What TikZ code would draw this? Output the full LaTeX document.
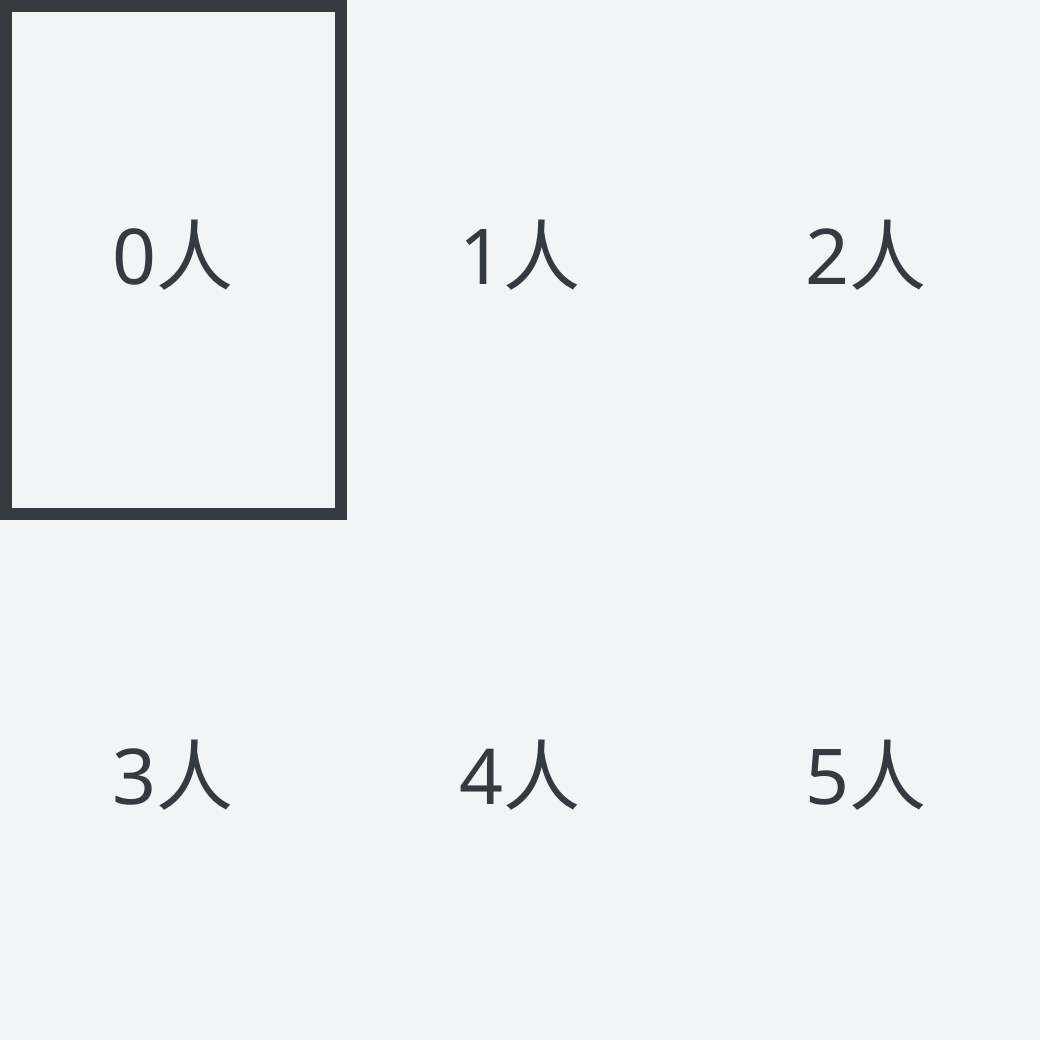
\documentclass[tikz,border=0pt]{standalone}
\usepackage{fontspec}
\setmainfont{Noto Sans}
\newfontfamily\cjk{Noto Sans CJK SC}
\definecolor{bgc}{HTML}{F3F4F6}
\definecolor{ink}{HTML}{353A41}
\begin{document}
\begin{tikzpicture}[x=1pt,y=-1pt,
  lbl/.style={text=ink,font=\fontsize{77}{92}\selectfont,inner sep=0pt,anchor=center},
  sel/.style={draw=ink,line width=12pt}]
\useasboundingbox (0,0) rectangle (1040,1040);
\fill[bgc] (0,0) rectangle (1040,1040);
\draw[sel] (6,6) rectangle (341,514);
\node[lbl] (n0) at (173,255) {0{\cjk 人}};
\node[lbl] (n1) at (520,255) {1{\cjk 人}};
\node[lbl] (n2) at (866,255) {2{\cjk 人}};
\node[lbl] (n3) at (173,775) {3{\cjk 人}};
\node[lbl] (n4) at (520,775) {4{\cjk 人}};
\node[lbl] (n5) at (866,775) {5{\cjk 人}};
\end{tikzpicture}
\end{document}
